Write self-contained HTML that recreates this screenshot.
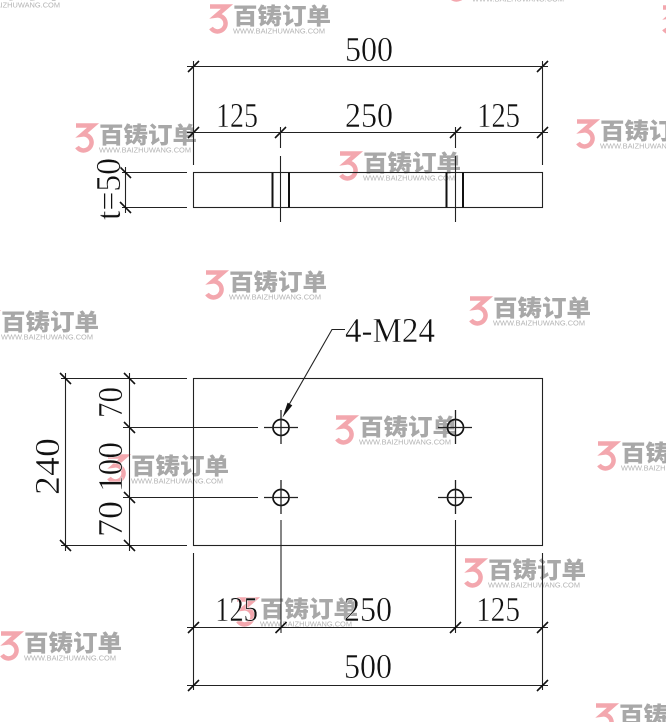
<!DOCTYPE html>
<html>
<head>
<meta charset="utf-8">
<style>
  html, body { margin: 0; padding: 0; background: #ffffff; }
  body { width: 666px; height: 722px; overflow: hidden; }
  svg { display: block; }
  .ln { stroke: #222; stroke-width: 1.1; fill: none; }
  .tk { stroke: #111; stroke-width: 1.6; }
  .th { stroke: #111; stroke-width: 2; }
  .hole { stroke: #111; stroke-width: 1.7; fill: none; }
  .cr { stroke: #222; stroke-width: 1.3; }
  .dim { font-family: "Liberation Serif", serif; font-size: 35px; fill: #111; stroke: #fff; stroke-width: 0.45; paint-order: normal; }
  .wm-cn { font-family: "Noto Sans CJK SC", "WenQuanYi Zen Hei", sans-serif; font-size: 23px; font-weight: 900; fill: #a8a8a8; }
  .wm-url { font-family: "Liberation Sans", sans-serif; font-size: 7.4px; fill: #b3b3b3; }
  .wm-logo { stroke: #f3a7ae; stroke-width: 4.5; fill: none; stroke-linecap: butt; }
</style>
</head>
<body>
<svg width="666" height="722" viewBox="0 0 666 722" xmlns="http://www.w3.org/2000/svg">
  <rect x="0" y="0" width="666" height="722" fill="#fff"/>

  <!-- ============ WATERMARKS ============ -->
  <g transform="translate(207,3)">
    <path class="wm-logo" d="M3,3.5 H20 L9.5,12.5 A8,8 0 1 1 4,25"/>
    <text class="wm-cn" x="26" y="21" textLength="98" lengthAdjust="spacingAndGlyphs">百铸订单</text>
    <text class="wm-url" x="26" y="30.5" textLength="92" lengthAdjust="spacingAndGlyphs">WWW.BAIZHUWANG.COM</text>
  </g>
  <g transform="translate(-58,-23)">
    <path class="wm-logo" d="M3,3.5 H20 L9.5,12.5 A8,8 0 1 1 4,25"/>
    <text class="wm-cn" x="26" y="21" textLength="98" lengthAdjust="spacingAndGlyphs">百铸订单</text>
    <text class="wm-url" x="26" y="30.5" textLength="92" lengthAdjust="spacingAndGlyphs">WWW.BAIZHUWANG.COM</text>
  </g>
  <g transform="translate(446,-29)">
    <path class="wm-logo" d="M3,3.5 H20 L9.5,12.5 A8,8 0 1 1 4,25"/>
    <text class="wm-cn" x="26" y="21" textLength="98" lengthAdjust="spacingAndGlyphs">百铸订单</text>
    <text class="wm-url" x="26" y="30.5" textLength="92" lengthAdjust="spacingAndGlyphs">WWW.BAIZHUWANG.COM</text>
  </g>
  <g transform="translate(660,4)">
    <path class="wm-logo" d="M3,3.5 H20 L9.5,12.5 A8,8 0 1 1 4,25"/>
  </g>
  <g transform="translate(73,122)">
    <path class="wm-logo" d="M3,3.5 H20 L9.5,12.5 A8,8 0 1 1 4,25"/>
    <text class="wm-cn" x="26" y="21" textLength="98" lengthAdjust="spacingAndGlyphs">百铸订单</text>
    <text class="wm-url" x="26" y="30.5" textLength="92" lengthAdjust="spacingAndGlyphs">WWW.BAIZHUWANG.COM</text>
  </g>
  <g transform="translate(337,150)">
    <path class="wm-logo" d="M3,3.5 H20 L9.5,12.5 A8,8 0 1 1 4,25"/>
    <text class="wm-cn" x="26" y="21" textLength="98" lengthAdjust="spacingAndGlyphs">百铸订单</text>
    <text class="wm-url" x="26" y="30.5" textLength="92" lengthAdjust="spacingAndGlyphs">WWW.BAIZHUWANG.COM</text>
  </g>
  <g transform="translate(574,118)">
    <path class="wm-logo" d="M3,3.5 H20 L9.5,12.5 A8,8 0 1 1 4,25"/>
    <text class="wm-cn" x="26" y="21" textLength="98" lengthAdjust="spacingAndGlyphs">百铸订单</text>
    <text class="wm-url" x="26" y="30.5" textLength="92" lengthAdjust="spacingAndGlyphs">WWW.BAIZHUWANG.COM</text>
  </g>
  <g transform="translate(203,269)">
    <path class="wm-logo" d="M3,3.5 H20 L9.5,12.5 A8,8 0 1 1 4,25"/>
    <text class="wm-cn" x="26" y="21" textLength="98" lengthAdjust="spacingAndGlyphs">百铸订单</text>
    <text class="wm-url" x="26" y="30.5" textLength="92" lengthAdjust="spacingAndGlyphs">WWW.BAIZHUWANG.COM</text>
  </g>
  <g transform="translate(-25,309)">
    <path class="wm-logo" d="M3,3.5 H20 L9.5,12.5 A8,8 0 1 1 4,25"/>
    <text class="wm-cn" x="26" y="21" textLength="98" lengthAdjust="spacingAndGlyphs">百铸订单</text>
    <text class="wm-url" x="26" y="30.5" textLength="92" lengthAdjust="spacingAndGlyphs">WWW.BAIZHUWANG.COM</text>
  </g>
  <g transform="translate(467,295)">
    <path class="wm-logo" d="M3,3.5 H20 L9.5,12.5 A8,8 0 1 1 4,25"/>
    <text class="wm-cn" x="26" y="21" textLength="98" lengthAdjust="spacingAndGlyphs">百铸订单</text>
    <text class="wm-url" x="26" y="30.5" textLength="92" lengthAdjust="spacingAndGlyphs">WWW.BAIZHUWANG.COM</text>
  </g>
  <g transform="translate(333,414)">
    <path class="wm-logo" d="M3,3.5 H20 L9.5,12.5 A8,8 0 1 1 4,25"/>
    <text class="wm-cn" x="26" y="21" textLength="98" lengthAdjust="spacingAndGlyphs">百铸订单</text>
    <text class="wm-url" x="26" y="30.5" textLength="92" lengthAdjust="spacingAndGlyphs">WWW.BAIZHUWANG.COM</text>
  </g>
  <g transform="translate(595,440)">
    <path class="wm-logo" d="M3,3.5 H20 L9.5,12.5 A8,8 0 1 1 4,25"/>
    <text class="wm-cn" x="26" y="21" textLength="98" lengthAdjust="spacingAndGlyphs">百铸订单</text>
    <text class="wm-url" x="26" y="30.5" textLength="92" lengthAdjust="spacingAndGlyphs">WWW.BAIZHUWANG.COM</text>
  </g>
  <g transform="translate(105,453)">
    <path class="wm-logo" d="M3,3.5 H20 L9.5,12.5 A8,8 0 1 1 4,25"/>
    <text class="wm-cn" x="26" y="21" textLength="98" lengthAdjust="spacingAndGlyphs">百铸订单</text>
    <text class="wm-url" x="26" y="30.5" textLength="92" lengthAdjust="spacingAndGlyphs">WWW.BAIZHUWANG.COM</text>
  </g>
  <g transform="translate(462,557)">
    <path class="wm-logo" d="M3,3.5 H20 L9.5,12.5 A8,8 0 1 1 4,25"/>
    <text class="wm-cn" x="26" y="21" textLength="98" lengthAdjust="spacingAndGlyphs">百铸订单</text>
    <text class="wm-url" x="26" y="30.5" textLength="92" lengthAdjust="spacingAndGlyphs">WWW.BAIZHUWANG.COM</text>
  </g>
  <g transform="translate(234,596)">
    <path class="wm-logo" d="M3,3.5 H20 L9.5,12.5 A8,8 0 1 1 4,25"/>
    <text class="wm-cn" x="26" y="21" textLength="98" lengthAdjust="spacingAndGlyphs">百铸订单</text>
    <text class="wm-url" x="26" y="30.5" textLength="92" lengthAdjust="spacingAndGlyphs">WWW.BAIZHUWANG.COM</text>
  </g>
  <g transform="translate(-2,630)">
    <path class="wm-logo" d="M3,3.5 H20 L9.5,12.5 A8,8 0 1 1 4,25"/>
    <text class="wm-cn" x="26" y="21" textLength="98" lengthAdjust="spacingAndGlyphs">百铸订单</text>
    <text class="wm-url" x="26" y="30.5" textLength="92" lengthAdjust="spacingAndGlyphs">WWW.BAIZHUWANG.COM</text>
  </g>
  <g transform="translate(593,702)">
    <path class="wm-logo" d="M3,3.5 H20 L9.5,12.5 A8,8 0 1 1 4,25"/>
    <text class="wm-cn" x="26" y="21" textLength="98" lengthAdjust="spacingAndGlyphs">百铸订单</text>
  </g>

  <!-- ============ ELEVATION (top) ============ -->
  <line class="ln" x1="187" y1="66.5" x2="548" y2="66.5"/>
  <line class="tk" x1="188" y1="72" x2="199" y2="61"/>
  <line class="tk" x1="537" y1="72" x2="548" y2="61"/>
  <line class="ln" x1="187" y1="132.5" x2="548" y2="132.5"/>
  <line class="tk" x1="188" y1="138" x2="199" y2="127"/>
  <line class="tk" x1="275" y1="138" x2="286" y2="127"/>
  <line class="tk" x1="450" y1="138" x2="461" y2="127"/>
  <line class="tk" x1="537" y1="138" x2="548" y2="127"/>
  <line class="ln" x1="193.5" y1="61" x2="193.5" y2="165"/>
  <line class="ln" x1="542.5" y1="61" x2="542.5" y2="165"/>
  <line class="ln" x1="280.5" y1="127" x2="280.5" y2="148"/>
  <line class="ln" x1="280.5" y1="156" x2="280.5" y2="222"/>
  <line class="ln" x1="455.5" y1="127" x2="455.5" y2="148"/>
  <line class="ln" x1="455.5" y1="156" x2="455.5" y2="222"/>
  <rect class="ln" x="193.5" y="172.5" width="349" height="35"/>
  <line class="th" x1="272.5" y1="172.5" x2="272.5" y2="207.5"/>
  <line class="th" x1="289" y1="172.5" x2="289" y2="207.5"/>
  <line class="th" x1="446.5" y1="172.5" x2="446.5" y2="207.5"/>
  <line class="th" x1="463" y1="172.5" x2="463" y2="207.5"/>
  <line class="ln" x1="122" y1="172.5" x2="187" y2="172.5"/>
  <line class="ln" x1="122" y1="207.5" x2="187" y2="207.5"/>
  <line class="ln" x1="125.5" y1="167" x2="125.5" y2="213"/>
  <line class="tk" x1="120" y1="167" x2="131" y2="178"/>
  <line class="tk" x1="120" y1="202" x2="131" y2="213"/>

  <text class="dim" x="345" y="61" textLength="48" lengthAdjust="spacingAndGlyphs">500</text>
  <text class="dim" x="216" y="127" textLength="42" lengthAdjust="spacingAndGlyphs">125</text>
  <text class="dim" x="345" y="127" textLength="48" lengthAdjust="spacingAndGlyphs">250</text>
  <text class="dim" x="477" y="127" textLength="43" lengthAdjust="spacingAndGlyphs">125</text>
  <text class="dim" transform="translate(120,220) rotate(-90)" x="0" y="0" textLength="62" lengthAdjust="spacingAndGlyphs">t=50</text>

  <!-- ============ PLAN VIEW ============ -->
  <rect class="ln" x="193.5" y="378.5" width="349" height="167"/>
  <line class="ln" x1="61" y1="378.5" x2="187" y2="378.5"/>
  <line class="ln" x1="61" y1="545.5" x2="187" y2="545.5"/>
  <line class="ln" x1="65.5" y1="373" x2="65.5" y2="551"/>
  <line class="tk" x1="60" y1="373" x2="71" y2="384"/>
  <line class="tk" x1="60" y1="540" x2="71" y2="551"/>
  <line class="ln" x1="129.5" y1="373" x2="129.5" y2="551"/>
  <line class="tk" x1="124" y1="373" x2="135" y2="384"/>
  <line class="tk" x1="124" y1="422" x2="135" y2="433"/>
  <line class="tk" x1="124" y1="492" x2="135" y2="503"/>
  <line class="tk" x1="124" y1="540" x2="135" y2="551"/>
  <line class="ln" x1="123" y1="427.5" x2="258" y2="427.5"/>
  <line class="ln" x1="123" y1="497.5" x2="258" y2="497.5"/>

  <g>
    <circle class="hole" cx="281" cy="427.5" r="8"/>
    <line class="cr" x1="264" y1="427.5" x2="298" y2="427.5"/>
    <line class="cr" x1="281" y1="410" x2="281" y2="444"/>

    <circle class="hole" cx="455.5" cy="427.5" r="8"/>
    <line class="cr" x1="438" y1="427.5" x2="472" y2="427.5"/>
    <line class="cr" x1="455.5" y1="410" x2="455.5" y2="444"/>

    <circle class="hole" cx="281" cy="497.5" r="8"/>
    <line class="cr" x1="264" y1="497.5" x2="298" y2="497.5"/>
    <line class="cr" x1="281" y1="480" x2="281" y2="514"/>

    <circle class="hole" cx="455.5" cy="497.5" r="8"/>
    <line class="cr" x1="438" y1="497.5" x2="472" y2="497.5"/>
    <line class="cr" x1="455.5" y1="480" x2="455.5" y2="514"/>
  </g>

  <polyline class="ln" points="345,329.5 332,329.5 286,410"/>
  <polygon points="282.5,417.5 292.3,405.4 287.6,402.6" fill="#111"/>
  <text class="dim" x="345" y="342" font-size="36" textLength="90" lengthAdjust="spacingAndGlyphs">4-M24</text>

  <text class="dim" font-size="38" transform="translate(59,495) rotate(-90)" x="0" y="0" textLength="57" lengthAdjust="spacingAndGlyphs">240</text>
  <text class="dim" transform="translate(122,418) rotate(-90)" x="0" y="0" textLength="31" lengthAdjust="spacingAndGlyphs">70</text>
  <text class="dim" transform="translate(122,492) rotate(-90)" x="0" y="0" textLength="50" lengthAdjust="spacingAndGlyphs">100</text>
  <text class="dim" transform="translate(122,537) rotate(-90)" x="0" y="0" textLength="36" lengthAdjust="spacingAndGlyphs">70</text>

  <line class="ln" x1="193.5" y1="553" x2="193.5" y2="690"/>
  <line class="ln" x1="542.5" y1="553" x2="542.5" y2="690"/>
  <line class="ln" x1="281" y1="520" x2="281" y2="633"/>
  <line class="ln" x1="455.5" y1="520" x2="455.5" y2="633"/>

  <line class="ln" x1="187" y1="627.5" x2="548" y2="627.5"/>
  <line class="tk" x1="188" y1="633" x2="199" y2="622"/>
  <line class="tk" x1="275.5" y1="633" x2="286.5" y2="622"/>
  <line class="tk" x1="450" y1="633" x2="461" y2="622"/>
  <line class="tk" x1="537" y1="633" x2="548" y2="622"/>

  <line class="ln" x1="187" y1="685.5" x2="548" y2="685.5"/>
  <line class="tk" x1="188" y1="691" x2="199" y2="680"/>
  <line class="tk" x1="537" y1="691" x2="548" y2="680"/>

  <text class="dim" x="215" y="621" textLength="43" lengthAdjust="spacingAndGlyphs">125</text>
  <text class="dim" x="344" y="621" textLength="48" lengthAdjust="spacingAndGlyphs">250</text>
  <text class="dim" x="476" y="621" textLength="44" lengthAdjust="spacingAndGlyphs">125</text>
  <text class="dim" x="344" y="678" textLength="48" lengthAdjust="spacingAndGlyphs">500</text>
</svg>
</body>
</html>
